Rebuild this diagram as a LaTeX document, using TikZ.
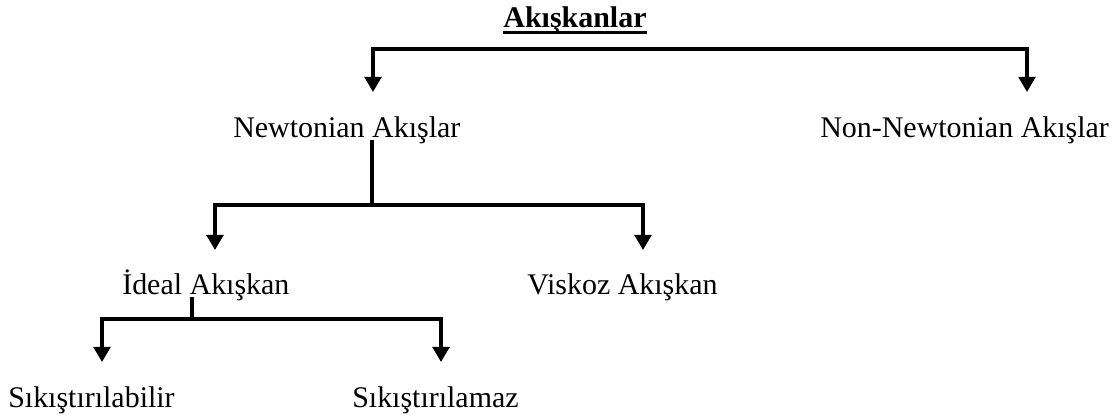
\documentclass[tikz,border=0pt]{standalone}
\usepackage{fontspec}
\setmainfont{Liberation Serif}
\usetikzlibrary{arrows.meta}

\begin{document}
\begin{tikzpicture}[x=0.025cm, y=-0.025cm,
    label/.style={inner sep=0pt, anchor=base west, font=\fontsize{21.3}{25}\selectfont},
    conn/.style={line width=2.5pt},
    fork/.style={conn, {Triangle[width=0.42cm,length=0.38cm]}-{Triangle[width=0.42cm,length=0.38cm]}}
    ]
    \useasboundingbox (0,0) rectangle (1120,418);
    % title
    \node[label, anchor=base] (title) at (575,28) {\textbf{Akışkanlar}};
    \draw[line width=1.8pt] ([yshift=-0.11cm]title.base west) -- ([yshift=-0.11cm]title.base east);
    % level 1
    \node[label] (newt) at (233,138) {Newtonian Akışlar};
    \node[label] (nonnewt) at (820,138) {Non-Newtonian Akışlar};
    \coordinate (newt-in) at (373,92);
    \coordinate (nonnewt-in) at (1027,92);
    \draw[fork] (newt-in) -- ++(0,-43) -| (nonnewt-in);
    % level 2
    \node[label] (ideal) at (122,295) {İdeal Akışkan};
    \node[label] (viskoz) at (527,295) {Viskoz Akışkan};
    \coordinate (newt-out) at (372,140);
    \coordinate (ideal-in) at (215,250);
    \coordinate (viskoz-in) at (643,250);
    \draw[conn] (newt-out) -- (newt-out |- 0,205);
    \draw[fork] (ideal-in) -- ++(0,-45) -| (viskoz-in);
    % level 3
    \node[label] (sikab) at (8,408) {Sıkıştırılabilir};
    \node[label] (sikamaz) at (352,408) {Sıkıştırılamaz};
    \coordinate (ideal-out) at (192,297);
    \coordinate (sikab-in) at (102,362);
    \coordinate (sikamaz-in) at (441,362);
    \draw[conn] (ideal-out) -- (ideal-out |- 0,319);
    \draw[fork] (sikab-in) -- ++(0,-43) -| (sikamaz-in);
\end{tikzpicture}
\end{document}
